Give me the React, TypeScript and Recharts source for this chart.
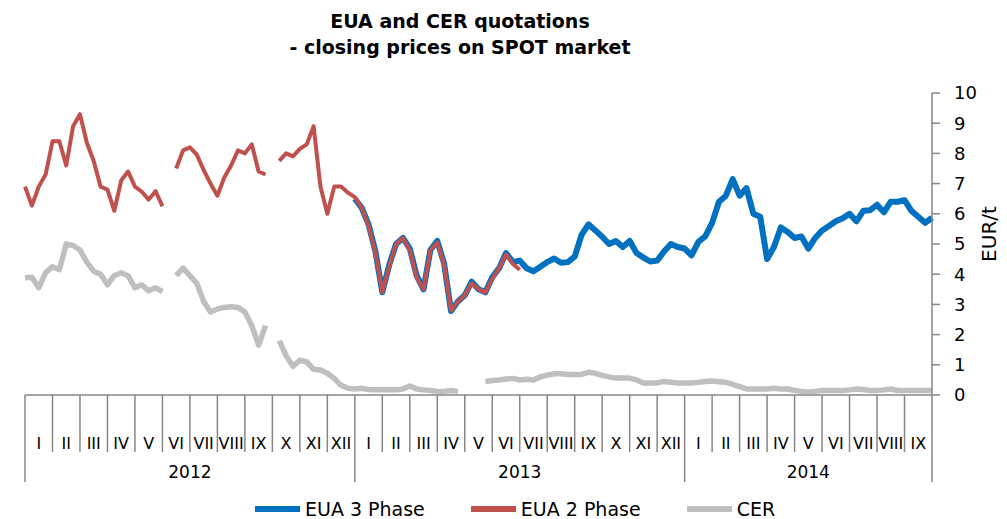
import { LineChart, Line, XAxis, YAxis } from "recharts";

// time axis: 4 points per month, Jan 2012 .. Sep 2014
const MONTHS = ["I", "II", "III", "IV", "V", "VI", "VII", "VIII", "IX", "X", "XI", "XII"];
const YEARS = ["2012", "2013", "2014"];
const YEAR_MONTHS = [12, 12, 9];
const PER_MONTH = 4;
const Y_TICKS = [0, 1, 2, 3, 4, 5, 6, 7, 8, 9, 10];

// EUR/t, weekly readings
const EUA3: (number | null)[] = [
  null, null, null, null, null, null, null, null, null, null, // 0
  null, null, null, null, null, null, null, null, null, null, // 10
  null, null, null, null, null, null, null, null, null, null, // 20
  null, null, null, null, null, null, null, null, null, null, // 30
  null, null, null, null, null, null, null, null, 6.5, 6.2, // 40
  5.65, 4.75, 3.4, 4.3, 5.0, 5.2, 4.85, 3.95, 3.5, 4.8, // 50
  5.1, 4.35, 2.78, 3.1, 3.3, 3.75, 3.5, 3.4, 3.9, 4.2, // 60
  4.7, 4.4, 4.45, 4.2, 4.1, 4.25, 4.4, 4.52, 4.38, 4.4, // 70
  4.58, 5.3, 5.65, 5.45, 5.24, 5.0, 5.1, 4.9, 5.1, 4.7, // 80
  4.55, 4.42, 4.45, 4.75, 5.0, 4.9, 4.85, 4.62, 5.07, 5.25, // 90
  5.7, 6.4, 6.6, 7.15, 6.6, 6.85, 6.0, 5.9, 4.5, 4.9, // 100
  5.55, 5.4, 5.2, 5.25, 4.85, 5.2, 5.45, 5.6, 5.75, 5.85, // 110
  6.0, 5.75, 6.1, 6.12, 6.3, 6.05, 6.4, 6.4, 6.45, 6.1, // 120
  5.9, 5.7, 5.87, // 130
];

const EUA2: (number | null)[] = [
  6.9, 6.27, 6.9, 7.3, 8.4, 8.4, 7.6, 8.9, 9.3, 8.35, // 0
  7.75, 6.9, 6.8, 6.1, 7.1, 7.4, 6.9, 6.73, 6.47, 6.75, // 10
  6.25, null, 7.5, 8.1, 8.2, 7.96, 7.45, 7.0, 6.6, 7.2, // 20
  7.6, 8.1, 8.0, 8.3, 7.4, 7.3, null, 7.75, 8.0, 7.9, // 30
  8.15, 8.3, 8.9, 6.9, 6.0, 6.9, 6.9, 6.7, 6.55, 6.2, // 40
  5.6, 4.7, 3.4, 4.25, 5.0, 5.2, 4.8, 3.9, 3.5, 4.8, // 50
  5.05, 4.3, 2.8, 3.1, 3.3, 3.7, 3.5, 3.4, 3.85, 4.2, // 60
  4.65, 4.35, 4.15, null, null, null, null, null, null, null, // 70
  null, null, null, null, null, null, null, null, null, null, // 80
  null, null, null, null, null, null, null, null, null, null, // 90
  null, null, null, null, null, null, null, null, null, null, // 100
  null, null, null, null, null, null, null, null, null, null, // 110
  null, null, null, null, null, null, null, null, null, null, // 120
  null, null, null, // 130
];

const CER: (number | null)[] = [
  3.88, 3.9, 3.55, 4.05, 4.25, 4.15, 5.0, 4.95, 4.8, 4.4, // 0
  4.1, 4.0, 3.65, 3.95, 4.05, 3.95, 3.55, 3.65, 3.45, 3.55, // 10
  3.42, null, 3.95, 4.2, 3.95, 3.7, 3.1, 2.75, 2.85, 2.9, // 20
  2.92, 2.9, 2.75, 2.3, 1.65, 2.3, null, 1.8, 1.3, 0.95, // 30
  1.15, 1.1, 0.85, 0.83, 0.72, 0.55, 0.32, 0.22, 0.2, 0.22, // 40
  0.18, 0.17, 0.17, 0.17, 0.17, 0.2, 0.3, 0.2, 0.17, 0.15, // 50
  0.12, 0.12, 0.15, 0.12, null, null, null, 0.45, 0.48, 0.5, // 60
  0.53, 0.55, 0.5, 0.52, 0.5, 0.6, 0.66, 0.7, 0.7, 0.68, // 70
  0.68, 0.68, 0.75, 0.72, 0.65, 0.6, 0.56, 0.56, 0.56, 0.5, // 80
  0.4, 0.4, 0.4, 0.45, 0.42, 0.4, 0.4, 0.4, 0.42, 0.45, // 90
  0.46, 0.44, 0.42, 0.35, 0.28, 0.2, 0.2, 0.2, 0.2, 0.22, // 100
  0.2, 0.2, 0.15, 0.12, 0.1, 0.12, 0.15, 0.15, 0.15, 0.15, // 110
  0.17, 0.2, 0.18, 0.15, 0.15, 0.17, 0.2, 0.15, 0.15, 0.15, // 120
  0.15, 0.15, 0.15, // 130
];

const data = EUA3.map((_, i) => ({ w: i, eua3: EUA3[i], eua2: EUA2[i], cer: CER[i] }));

// month boundaries, month centres and year centres on the time axis
const monthEdges: number[] = [0];
const yearEdges: number[] = [0];
const monthCenters = new Map<number, string>();
const yearCenters = new Map<number, string>();
let m = 0;
YEARS.forEach((year, yi) => {
  const start = m;
  for (let k = 0; k < YEAR_MONTHS[yi]; k++) {
    monthCenters.set((m + 0.5) * PER_MONTH, MONTHS[k]);
    m++;
    monthEdges.push(m * PER_MONTH);
  }
  yearEdges.push(m * PER_MONTH);
  yearCenters.set(((start + m) / 2) * PER_MONTH, year);
});
const X_MAX = m * PER_MONTH;
const xTicks = Array.from(
  new Set([...monthEdges, ...monthCenters.keys(), ...yearCenters.keys()])
).sort((a, b) => a - b);

const FONT = "'DejaVu Sans', Verdana, sans-serif";
const AXIS = "#868686";

function TimeTick(props: any) {
  const { x, y, payload } = props;
  const v = payload.value;
  return (
    <g>
      {monthEdges.includes(v) && (
        <line x1={x} x2={x} y1={y} y2={y + (yearEdges.includes(v) ? 87 : 57)} stroke={AXIS} strokeWidth={1.5} />
      )}
      {monthCenters.has(v) && (
        <text x={x} y={y + 48} dy="0.35em" textAnchor="middle" fontSize={16} fontFamily={FONT} fill="#000">
          {monthCenters.get(v)}
        </text>
      )}
      {yearCenters.has(v) && (
        <text x={x} y={y + 77} dy="0.35em" textAnchor="middle" fontSize={17} fontFamily={FONT} fill="#000">
          {yearCenters.get(v)}
        </text>
      )}
    </g>
  );
}

const legendItems = [
  { name: "EUA 3 Phase", color: "#0070C0" },
  { name: "EUA 2 Phase", color: "#C0504D" },
  { name: "CER", color: "#BFBFBF" },
];

export default function App() {
  return (
    <div style={{ position: "relative", width: 999, height: 511, fontFamily: FONT }}>
      <div
        style={{
          position: "absolute",
          left: 0,
          top: 0,
          width: 904,
          textAlign: "center",
          fontWeight: "bold",
          fontSize: 19,
          lineHeight: "26px",
        }}
      >
        EUA and CER quotations
        <br />- closing prices on SPOT market
      </div>
      <LineChart width={999} height={511} data={data} margin={{ top: 85, right: 15, left: 17, bottom: 34 }}>
        <XAxis
          dataKey="w"
          type="number"
          domain={[0, X_MAX]}
          ticks={xTicks}
          interval={0}
          tickLine={false}
          tickSize={0}
          tickMargin={0}
          height={90}
          stroke={AXIS}
          strokeWidth={1.5}
          tick={<TimeTick />}
        />
        <YAxis
          orientation="right"
          domain={[0, 10]}
          ticks={Y_TICKS}
          interval={0}
          width={60}
          stroke={AXIS}
          strokeWidth={1.5}
          tickSize={8}
          tickMargin={14}
          tick={{ fill: "#000", fontSize: 18, fontFamily: FONT, textAnchor: "start" }}
        />
        <Line dataKey="cer" stroke="#BFBFBF" strokeWidth={5.5} dot={false} activeDot={false} isAnimationActive={false} strokeLinejoin="round" />
        <Line dataKey="eua3" stroke="#0070C0" strokeWidth={6} dot={false} activeDot={false} isAnimationActive={false} strokeLinejoin="round" />
        <Line dataKey="eua2" stroke="#C0504D" strokeWidth={4} dot={false} activeDot={false} isAnimationActive={false} strokeLinejoin="round" />
      </LineChart>
      <div
        style={{
          position: "absolute",
          left: 981,
          top: 226,
          transform: "translate(-50%, -50%) rotate(-90deg)",
          fontSize: 20,
          lineHeight: "22px",
          whiteSpace: "nowrap",
        }}
      >
        EUR/t
      </div>
      <div style={{ position: "absolute", left: 247, top: 490, display: "flex", alignItems: "center", gap: 46 }}>
        {legendItems.map((it) => (
          <div key={it.name} style={{ display: "flex", alignItems: "center" }}>
            <div style={{ width: 45, height: 6, background: it.color, marginRight: 5 }} />
            <span style={{ fontSize: 19 }}>{it.name}</span>
          </div>
        ))}
      </div>
    </div>
  );
}
